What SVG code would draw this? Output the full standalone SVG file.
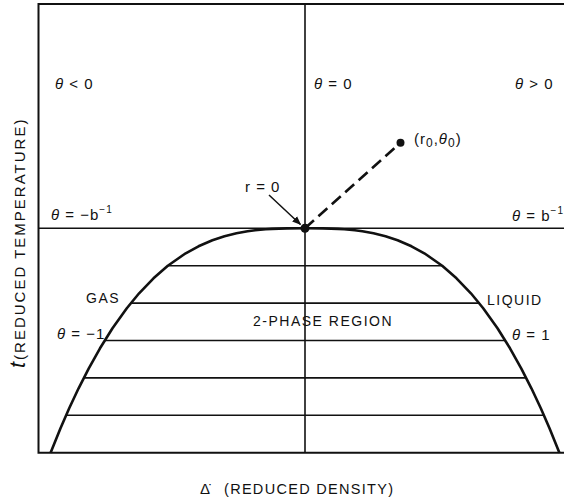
<svg xmlns="http://www.w3.org/2000/svg" width="564" height="502" viewBox="0 0 564 502">
<style>
text{font-family:"Liberation Sans","DejaVu Sans",sans-serif;font-size:15px;fill:#111;letter-spacing:1px}
.th{font-style:italic}
.sup{font-size:10px}
.sub{font-size:12px}
.frame{stroke:#111;stroke-width:2;fill:none}
.axis{stroke:#111;stroke-width:1.6;fill:none}
.tie{stroke:#111;stroke-width:1.6;fill:none}
.curve{stroke:#111;stroke-width:2.6;fill:none;stroke-linejoin:round}
.dash{stroke:#111;stroke-width:2.6;stroke-dasharray:12 6;fill:none}
</style>
<defs>
<marker id="ah" viewBox="0 0 10 10" refX="9" refY="5" markerWidth="9" markerHeight="9" markerUnits="userSpaceOnUse" orient="auto">
<path d="M0,1 L10,5 L0,9 Z" fill="#111"/>
</marker>
</defs>
<g id="frame">
<path class="frame" d="M564,4 H38.5 V452.7 H564"/>
<line class="axis" x1="305" y1="4" x2="305" y2="452.7"/>
<line class="axis" x1="38.5" y1="228.3" x2="564" y2="228.3"/>
</g>
<g id="coexistence-curve">
<polyline class="curve" points="50.6,452.7 60.5,428.3 69.2,408.3 78.6,388.3 88.8,368.3 100,348.3 112.5,328.3 126.8,308.3 139.1,293.3 153.5,278.3 167.8,265.7 185.7,253.3 198.5,246.3 212.4,240.3 224.5,236.3 236.5,233.3 247.6,231.3 255.1,230.3 265.7,229.3 272.1,228.9 279.1,228.6 287.2,228.4 305,228.3 322.8,228.4 330.9,228.6 337.9,228.9 344.3,229.3 354.9,230.3 362.4,231.3 373.5,233.3 385.5,236.3 397.6,240.3 411.5,246.3 424.3,253.3 442.2,265.7 456.5,278.3 470.9,293.3 483.2,308.3 497.5,328.3 510,348.3 521.2,368.3 531.4,388.3 540.8,408.3 549.5,428.3 559.4,452.7"/>
</g>
<g id="tie-lines">
<line class="tie" x1="167.8" y1="265.7" x2="442.2" y2="265.7"/>
<line class="tie" x1="130.8" y1="303.1" x2="479.2" y2="303.1"/>
<line class="tie" x1="104.7" y1="340.5" x2="505.3" y2="340.5"/>
<line class="tie" x1="83.8" y1="377.9" x2="526.2" y2="377.9"/>
<line class="tie" x1="66.1" y1="415.3" x2="543.9" y2="415.3"/>
</g>
<g id="connectors">
<line class="dash" x1="305" y1="228.3" x2="400.5" y2="142.7"/>
<line stroke="#111" stroke-width="1.5" x1="269" y1="195" x2="300.5" y2="224.5" marker-end="url(#ah)"/>
</g>
<g id="critical-point">
<circle cx="305" cy="228.3" r="4.5" fill="#111"/>
<text x="245" y="192">r = 0</text>
</g>
<g id="point-r0">
<circle cx="400.5" cy="142.7" r="4" fill="#111"/>
<text x="414" y="144">(r<tspan class="sub" dy="3">0</tspan><tspan dy="-3">,</tspan><tspan class="th">θ</tspan><tspan class="sub" dy="3">0</tspan><tspan dy="-3">)</tspan></text>
</g>
<g id="labels">
<text x="55" y="89"><tspan class="th">θ</tspan> &lt; 0</text>
<text x="314" y="89"><tspan class="th">θ</tspan> = 0</text>
<text x="515" y="89"><tspan class="th">θ</tspan> &gt; 0</text>
<text x="51" y="220"><tspan class="th">θ</tspan> = −b<tspan class="sup" dy="-7">−1</tspan></text>
<text x="512" y="221"><tspan class="th">θ</tspan> = b<tspan class="sup" dy="-7">−1</tspan></text>
<text x="86" y="303" style="font-size:14px;letter-spacing:1.5px">GAS</text>
<text x="487" y="305" style="font-size:14px;letter-spacing:1.5px">LIQUID</text>
<text x="253" y="326" style="font-size:14px;letter-spacing:1.5px">2-PHASE REGION</text>
<text x="57" y="339"><tspan class="th">θ</tspan> = −1</text>
<text x="512" y="340"><tspan class="th">θ</tspan> = 1</text>
</g>
<g id="axis-labels">
<text x="200" y="494" style="font-size:14.5px;letter-spacing:1.3px"><tspan style="font-size:15px;letter-spacing:0">Δ̇</tspan><tspan x="224">(REDUCED DENSITY)</tspan></text>
<text transform="translate(25,368) rotate(-90)" style="letter-spacing:2px"><tspan class="th" style="font-size:22px">t</tspan>(REDUCED TEMPERATURE)</text>
</g>
</svg>
